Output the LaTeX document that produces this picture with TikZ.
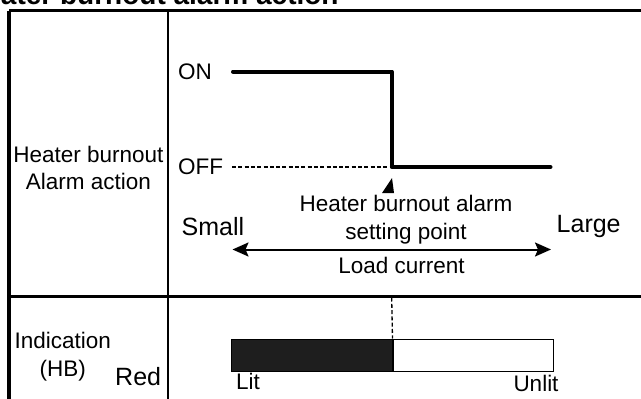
\documentclass[tikz,border=0pt]{standalone}
\usepackage{fontspec}
\setmainfont{Liberation Sans}
\usepackage{xcolor}
\usetikzlibrary{arrows.meta}
\definecolor{litfill}{HTML}{1E1E1E}

\begin{document}
\begin{tikzpicture}[x=1pt, y=-1pt,
    lbl/.style={inner sep=0pt, font=\fontsize{22.5}{27}\selectfont},
    biglbl/.style={inner sep=0pt, font=\fontsize{25}{30}\selectfont},
    frame/.style={line width=3.8pt},
    divider/.style={line width=2.5pt},
    signal/.style={line width=4pt, line cap=round, line join=round},
    guide/.style={line width=1.3pt, dash pattern=on 4pt off 2.3pt},
    axis/.style={{Stealth[length=16pt,width=14pt,inset=3pt]}-{Stealth[length=16pt,width=14pt,inset=3pt]}, line width=2pt},
    lamp/.style={draw, line width=1pt, inner sep=0pt, minimum width=160.5pt, minimum height=32pt, anchor=north west}
]
\useasboundingbox (0,0) rectangle (641,399);
\clip (0,0) rectangle (641,399);

% Title (cut off by the page edge)
\node[anchor=base west, inner sep=0pt, font=\bfseries\fontsize{28}{33}\selectfont] (title) at (-35,4.5) {Heater burnout alarm action};

% Table frame
\draw[frame] (9,10.5) -- (700,10.5);
\draw[frame] (9,10.5) -- (9,450);
\draw[divider] (168,10.5) -- (168,450);
\draw[divider] (9,296.5) -- (700,296.5);

% Row headings
\node[lbl, anchor=base] (hb1) at (88.5,162.7) {Heater burnout};
\node[lbl, anchor=base] (hb2) at (88.5,189) {Alarm action};
\node[lbl, anchor=base] (ind1) at (62.7,348) {Indication};
\node[lbl, anchor=base] (ind2) at (62.8,376) {(HB)};
\node[biglbl, anchor=base west] (red) at (115,385.7) {Red};

% Alarm output levels
\node[lbl, anchor=base west] (on) at (178,79) {ON};
\node[lbl, anchor=base west] (off) at (178,174) {OFF};

\coordinate (s0) at (233,71.5);
\coordinate (s1) at (391.7,71.5);
\coordinate (s2) at (391.7,167);
\coordinate (s3) at (550.5,167);
\coordinate (d0) at (232,167);

\draw[guide] (d0) -- (s2);
\draw[signal] (s0) -- (s1) -- (s2) -- (s3);

% Setting point mark
\fill (382,193) -- (392,178) -- (394,193) -- cycle;
\node[lbl, anchor=base] (spt1) at (406,211.5) {Heater burnout alarm};
\node[lbl, anchor=base] (spt2) at (406,239.5) {setting point};

% Load current axis
\node[biglbl, anchor=base west] (small) at (181.5,235) {Small};
\node[biglbl, anchor=base west] (large) at (556.5,232.5) {Large};
\coordinate (ax0) at (232.5,249.5);
\coordinate (ax1) at (551,249.5);
\draw[axis] (ax0) -- (ax1);
\node[lbl, anchor=base] (load) at (401.5,273) {Load current};

% Indication bar
\node[lamp, fill=litfill] (lit) at (231,338.5) {};
\node[lamp, fill=white] (unlit) at (lit.north east) {};
\coordinate (cut) at (391.7,297.5);
\draw[guide] (cut) -- (unlit.north west);

\node[lbl, anchor=base west] (littxt) at (236,389) {Lit};
\node[lbl, anchor=base west] (unlittxt) at (513.3,391.5) {Unlit};

\end{tikzpicture}
\end{document}
